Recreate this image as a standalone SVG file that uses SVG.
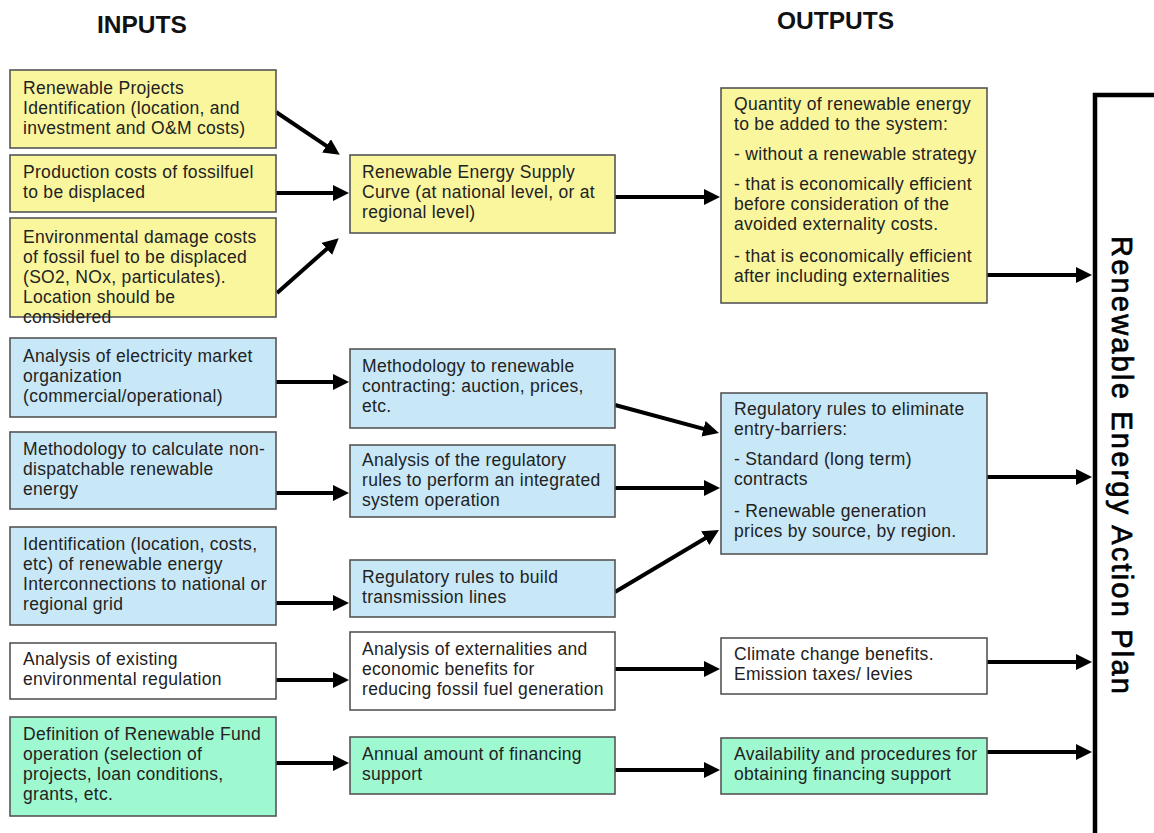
<svg xmlns="http://www.w3.org/2000/svg" width="1154" height="833" viewBox="0 0 1154 833">
<style>
.box{stroke:#555;stroke-width:1.6}
.y{fill:#FAF69E}
.b{fill:#C8E8F8}
.w{fill:#FFFFFF}
.g{fill:#9EF8D0}
.t{font-family:"Liberation Sans",Arial,sans-serif;font-size:17.5px;letter-spacing:0.3px;fill:#222}
.h{font-family:"Liberation Sans",Arial,sans-serif;font-size:24.5px;font-weight:bold;fill:#111}
.c{stroke:#000;stroke-width:4;fill:none;marker-end:url(#ah)}
</style>
<defs>
<marker id="ah" markerUnits="userSpaceOnUse" markerWidth="17" markerHeight="17" refX="3" refY="8" orient="auto" viewBox="0 0 17 17">
<path d="M0,0 L16,8 L0,16 z" fill="#000"/>
</marker>
</defs>
<rect width="1154" height="833" fill="#fff"/>
<text class="h" x="97" y="33">INPUTS</text>
<text class="h" x="777" y="29">OUTPUTS</text>

<g id="connectors">
<line class="c" x1="276" y1="112" x2="329" y2="147.6"/>
<line class="c" x1="276" y1="193" x2="336" y2="193"/>
<line class="c" x1="277" y1="293" x2="329" y2="246.9"/>
<line class="c" x1="615" y1="197" x2="707" y2="197"/>
<line class="c" x1="987" y1="275" x2="1079" y2="275"/>
<line class="c" x1="276" y1="382" x2="336" y2="382"/>
<line class="c" x1="276" y1="493" x2="336" y2="493"/>
<line class="c" x1="276" y1="603" x2="336" y2="603"/>
<line class="c" x1="615" y1="405" x2="706.4" y2="429.6"/>
<line class="c" x1="615" y1="488" x2="707" y2="488"/>
<line class="c" x1="615" y1="592" x2="707.8" y2="536.7"/>
<line class="c" x1="987" y1="477" x2="1079" y2="477"/>
<line class="c" x1="276" y1="680" x2="336" y2="680"/>
<line class="c" x1="276" y1="763" x2="336" y2="763"/>
<line class="c" x1="615" y1="669" x2="707" y2="669"/>
<line class="c" x1="615" y1="770" x2="707" y2="770"/>
<line class="c" x1="987" y1="662" x2="1079" y2="662"/>
<line class="c" x1="987" y1="752" x2="1079" y2="752"/>
</g>

<g id="in-projects">
<rect class="box y" x="10" y="70" width="266" height="78"/>
<text class="t"><tspan x="23" y="94">Renewable Projects</tspan><tspan x="23" y="114">Identification (location, and</tspan><tspan x="23" y="134">investment and O&amp;M costs)</tspan></text>
</g>
<g id="in-production">
<rect class="box y" x="10" y="155" width="266" height="57"/>
<text class="t"><tspan x="23" y="178">Production costs of fossilfuel</tspan><tspan x="23" y="198">to be displaced</tspan></text>
</g>
<g id="in-environment">
<rect class="box y" x="10" y="218" width="266" height="99"/>
<text class="t"><tspan x="23" y="243">Environmental damage costs</tspan><tspan x="23" y="263">of fossil fuel to be displaced</tspan><tspan x="23" y="283">(SO2, NOx, particulates).</tspan><tspan x="23" y="303">Location should be</tspan><tspan x="23" y="323">considered</tspan></text>
</g>
<g id="in-market">
<rect class="box b" x="10" y="338" width="266" height="79"/>
<text class="t"><tspan x="23" y="362">Analysis of electricity market</tspan><tspan x="23" y="382">organization</tspan><tspan x="23" y="402">(commercial/operational)</tspan></text>
</g>
<g id="in-nondispatch">
<rect class="box b" x="10" y="432" width="266" height="77"/>
<text class="t"><tspan x="23" y="455">Methodology to calculate non-</tspan><tspan x="23" y="475">dispatchable renewable</tspan><tspan x="23" y="495">energy</tspan></text>
</g>
<g id="in-interconnect">
<rect class="box b" x="10" y="527" width="266" height="98"/>
<text class="t"><tspan x="23" y="550">Identification (location, costs,</tspan><tspan x="23" y="570">etc) of renewable energy</tspan><tspan x="23" y="590">Interconnections to national or</tspan><tspan x="23" y="610">regional grid</tspan></text>
</g>
<g id="in-envreg">
<rect class="box w" x="10" y="643" width="266" height="56"/>
<text class="t"><tspan x="23" y="665">Analysis of existing</tspan><tspan x="23" y="685">environmental regulation</tspan></text>
</g>
<g id="in-fund">
<rect class="box g" x="10" y="717" width="266" height="99"/>
<text class="t"><tspan x="23" y="740">Definition of Renewable Fund</tspan><tspan x="23" y="760">operation (selection of</tspan><tspan x="23" y="780">projects, loan conditions,</tspan><tspan x="23" y="800">grants, etc.</tspan></text>
</g>

<g id="mid-supply">
<rect class="box y" x="350" y="155" width="265" height="78"/>
<text class="t"><tspan x="362" y="178">Renewable Energy Supply</tspan><tspan x="362" y="198">Curve (at national level, or at</tspan><tspan x="362" y="218">regional level)</tspan></text>
</g>
<g id="mid-contracting">
<rect class="box b" x="350" y="349" width="265" height="79"/>
<text class="t"><tspan x="362" y="372">Methodology to renewable</tspan><tspan x="362" y="392">contracting: auction, prices,</tspan><tspan x="362" y="412">etc.</tspan></text>
</g>
<g id="mid-regulatory">
<rect class="box b" x="350" y="445" width="265" height="72"/>
<text class="t"><tspan x="362" y="466">Analysis of the regulatory</tspan><tspan x="362" y="486">rules to perform an integrated</tspan><tspan x="362" y="506">system operation</tspan></text>
</g>
<g id="mid-transmission">
<rect class="box b" x="350" y="560" width="265" height="57"/>
<text class="t"><tspan x="362" y="583">Regulatory rules to build</tspan><tspan x="362" y="603">transmission lines</tspan></text>
</g>
<g id="mid-externalities">
<rect class="box w" x="350" y="632" width="265" height="78"/>
<text class="t"><tspan x="362" y="655">Analysis of externalities and</tspan><tspan x="362" y="675">economic benefits for</tspan><tspan x="362" y="695">reducing fossil fuel generation</tspan></text>
</g>
<g id="mid-financing">
<rect class="box g" x="350" y="737" width="265" height="57"/>
<text class="t"><tspan x="362" y="760">Annual amount of financing</tspan><tspan x="362" y="780">support</tspan></text>
</g>

<g id="out-quantity">
<rect class="box y" x="721" y="88" width="266" height="215"/>
<text class="t"><tspan x="734" y="110">Quantity of renewable energy</tspan><tspan x="734" y="130">to be added to the system:</tspan><tspan x="734" y="160">- without a renewable  strategy</tspan><tspan x="734" y="190">- that is economically efficient</tspan><tspan x="734" y="210">before consideration of the</tspan><tspan x="734" y="230">avoided externality costs.</tspan><tspan x="734" y="262">- that is economically efficient</tspan><tspan x="734" y="282">after including externalities</tspan></text>
</g>
<g id="out-barriers">
<rect class="box b" x="721" y="393" width="266" height="161"/>
<text class="t"><tspan x="734" y="415">Regulatory rules to eliminate</tspan><tspan x="734" y="435">entry-barriers:</tspan><tspan x="734" y="465">- Standard  (long term)</tspan><tspan x="734" y="485">contracts</tspan><tspan x="734" y="517">- Renewable  generation</tspan><tspan x="734" y="537">prices by source, by region.</tspan></text>
</g>
<g id="out-climate">
<rect class="box w" x="721" y="638" width="266" height="56"/>
<text class="t"><tspan x="734" y="660">Climate change benefits.</tspan><tspan x="734" y="680">Emission taxes/ levies</tspan></text>
</g>
<g id="out-availability">
<rect class="box g" x="721" y="738" width="266" height="56"/>
<text class="t"><tspan x="734" y="760">Availability and procedures for</tspan><tspan x="734" y="780">obtaining financing support</tspan></text>
</g>

<g id="action-plan">
<rect x="1095" y="95" width="120" height="800" fill="#fff" stroke="#000" stroke-width="4.5"/>
<text transform="translate(1112,236) rotate(90)" x="0" y="0" textLength="458" lengthAdjust="spacing" style="font-family:'Liberation Sans',Arial,sans-serif;font-size:29px;fill:#000;stroke:#000;stroke-width:0.7px">Renewable Energy Action Plan</text>
</g>
</svg>
